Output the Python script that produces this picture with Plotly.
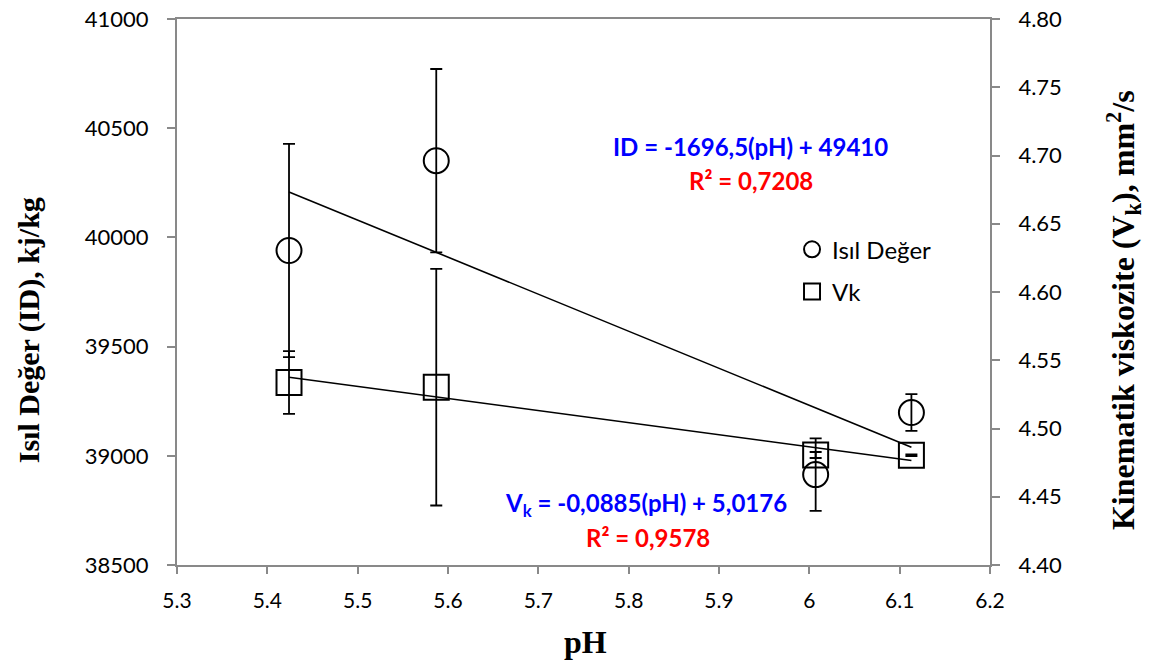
import plotly.graph_objects as go

# ---- data ----
ph = [5.424, 5.587, 6.007, 6.113]
isil_deger = [39940, 40351, 38914, 39198]
isil_err = [488, 420, 166, 84]
vk = [4.5337, 4.5303, 4.4806, 4.4804]
vk_err = [0.023, 0.0867, 0.0022, 0.0007]

# trendline coefficients (as printed on the chart)
id_slope, id_intercept = -1696.5, 49410
vk_slope, vk_intercept = -0.0885, 5.0176

x_ticks = [5.3, 5.4, 5.5, 5.6, 5.7, 5.8, 5.9, 6.0, 6.1, 6.2]
x_ticktext = ["5.3", "5.4", "5.5", "5.6", "5.7", "5.8", "5.9", "6", "6.1", "6.2"]

AX_COLOR = "#898989"
TICK_FONT = dict(family="Lato", size=22, color="#000000")

x_line = [min(ph), max(ph)]
id_line = [id_slope * v + id_intercept for v in x_line]
vk_line = [vk_slope * v + vk_intercept for v in x_line]

fig = go.Figure()

fig.add_trace(go.Scatter(
    x=x_line, y=id_line, mode="lines", line=dict(color="black", width=1.6),
    showlegend=False, hoverinfo="skip", yaxis="y"))
fig.add_trace(go.Scatter(
    x=x_line, y=vk_line, mode="lines", line=dict(color="black", width=1.6),
    showlegend=False, hoverinfo="skip", yaxis="y2"))

fig.add_trace(go.Scatter(
    x=ph, y=isil_deger, mode="markers", name="Isıl Değer", legendgroup="a",
    marker=dict(symbol="circle-open", size=25, color="black", line=dict(width=2, color="black")),
    error_y=dict(type="data", array=isil_err, visible=True, color="black", thickness=1.8, width=6),
    yaxis="y"))
fig.add_trace(go.Scatter(
    x=ph, y=vk, mode="markers", name="Vk", legendgroup="b",
    marker=dict(symbol="square-open", size=25, color="black", line=dict(width=2, color="black")),
    error_y=dict(type="data", array=vk_err, visible=True, color="black", thickness=1.8, width=6),
    yaxis="y2"))

fig.update_layout(
    template="none",
    width=1150, height=666,
    margin=dict(l=177, r=160, t=19, b=101, autoexpand=False),
    paper_bgcolor="white", plot_bgcolor="white",
    showlegend=True,
    legend=dict(x=0.7565, y=0.6187, xanchor="left", yanchor="top",
                font=dict(family="Lato", size=24, color="#000000"),
                bgcolor="rgba(0,0,0,0)", borderwidth=0, tracegroupgap=8, itemwidth=30,
                traceorder="grouped"),
    xaxis=dict(range=[5.3, 6.2], tickvals=x_ticks, ticktext=x_ticktext, automargin=False,
               showgrid=False, zeroline=False, showline=True, linecolor=AX_COLOR,
               linewidth=2, mirror=True, ticks="outside", ticklen=7, tickcolor=AX_COLOR,
               tickwidth=2, tickfont=dict(family="Lato", size=21, color="#000000"),
               ticklabelstandoff=9),
    yaxis=dict(range=[38500, 41000], dtick=500, tick0=38500, tickformat="d", automargin=False,
               showgrid=False, zeroline=False, showline=True, linecolor=AX_COLOR,
               linewidth=2, ticks="outside", ticklen=8, tickcolor=AX_COLOR, tickwidth=2,
               tickfont=TICK_FONT, ticklabelstandoff=14),
    yaxis2=dict(range=[4.40, 4.80], dtick=0.05, tick0=4.40, tickformat=".2f", automargin=False,
                overlaying="y", side="right",
                showgrid=False, zeroline=False, showline=True, linecolor=AX_COLOR,
                linewidth=2, ticks="outside", ticklen=8, tickcolor=AX_COLOR, tickwidth=2,
                tickfont=TICK_FONT, ticklabelstandoff=14),
)

ann = [
    dict(text="<b>Isıl Değer (ID), kj/kg</b>", x=-0.182, y=0.43, textangle=-90,
         font=dict(family="Liberation Serif", size=30, color="#000000")),
    dict(text="<b>Kinematik viskozite (V<sub>k</sub>), mm<sup>2</sup>/s</b>", x=1.1636, y=0.467,
         textangle=-90, font=dict(family="Liberation Serif", size=32, color="#000000")),
    dict(text="<b>pH</b>", x=0.503, y=-0.141,
         font=dict(family="Liberation Serif", size=32, color="#000000")),
    dict(text="<b>ID = -1696,5(pH) + 49410</b>", x=0.706, y=0.766,
         font=dict(family="Lato", size=24, color="#0000FF")),
    dict(text="<b>R² = 0,7208</b>", x=0.706, y=0.705,
         font=dict(family="Lato", size=24, color="#FF0000")),
    dict(text="<b>V<sub>k</sub> = -0,0885(pH) + 5,0176</b>", x=0.577, y=0.110,
         font=dict(family="Lato", size=24, color="#0000FF")),
    dict(text="<b>R² = 0,9578</b>", x=0.579, y=0.051,
         font=dict(family="Lato", size=24, color="#FF0000")),
]
for a in ann:
    fig.add_annotation(xref="paper", yref="paper", showarrow=False,
                       xanchor="center", yanchor="middle", **a)

fig.write_html("out.html")
